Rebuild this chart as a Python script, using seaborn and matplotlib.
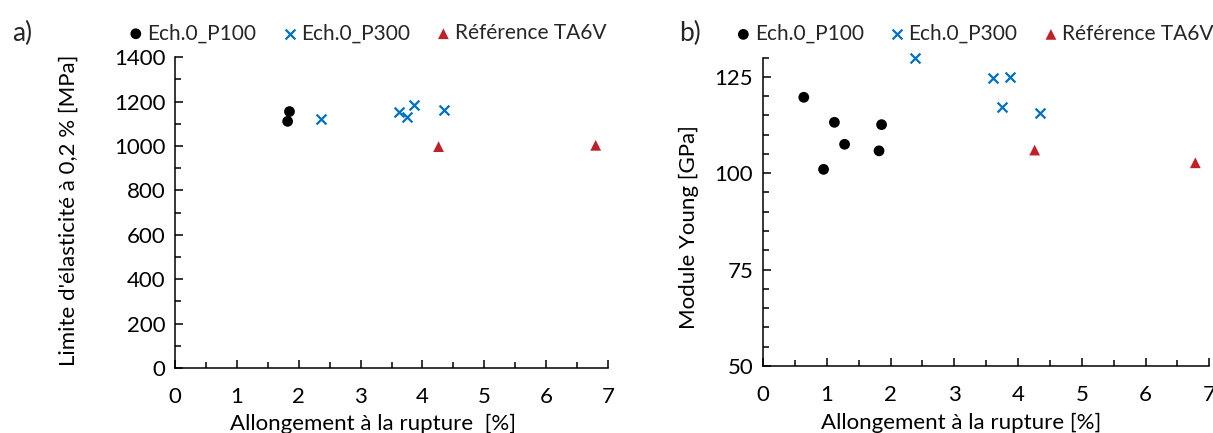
"""Yield strength and Young modulus vs elongation at break (two scatter panels)."""

import matplotlib.pyplot as plt
import pandas as pd
import seaborn as sns
from matplotlib.ticker import MultipleLocator

# panel a) yield strength at 0.2 % [MPa] vs elongation [%]
p100_elong_a = [1.82, 1.85]
p100_yield = [1111, 1155]
p300_elong_a = [2.36, 3.62, 3.75, 3.87, 4.35]
p300_yield = [1122, 1155, 1130, 1185, 1163]
ref_elong_a = [4.26, 6.80]
ref_yield = [997, 1003]

# panel b) Young modulus [GPa] vs elongation [%]
p100_elong_b = [0.64, 0.95, 1.12, 1.28, 1.82, 1.86]
p100_young = [119.7, 101.0, 113.2, 107.5, 105.8, 112.6]
p300_elong_b = [2.38, 3.61, 3.75, 3.88, 4.35]
p300_young = [129.8, 124.6, 117.1, 125.0, 115.6]
ref_elong_b = [4.26, 6.78]
ref_young = [106.0, 102.7]

series_names = ["Ech.0_P100", "Ech.0_P300", "Référence TA6V"]
colors = {"Ech.0_P100": "black", "Ech.0_P300": "#0070C0", "Référence TA6V": "#C0202A"}
markers = {"Ech.0_P100": "o", "Ech.0_P300": "x", "Référence TA6V": "^"}
sizes = {"Ech.0_P100": 60, "Ech.0_P300": 50, "Référence TA6V": 60}

sns.set_theme(style="white")
plt.rcParams["font.family"] = ["Lato", "DejaVu Sans"]
plt.rcParams["font.size"] = 15
FS = 16
FS_LEG = 15


def long_df(groups):
    frames = []
    for name, xs, ys in groups:
        frames.append(pd.DataFrame({"x": xs, "y": ys, "serie": name}))
    return pd.concat(frames, ignore_index=True)


df_a = long_df([
    ("Ech.0_P100", p100_elong_a, p100_yield),
    ("Ech.0_P300", p300_elong_a, p300_yield),
    ("Référence TA6V", ref_elong_a, ref_yield),
])
df_b = long_df([
    ("Ech.0_P100", p100_elong_b, p100_young),
    ("Ech.0_P300", p300_elong_b, p300_young),
    ("Référence TA6V", ref_elong_b, ref_young),
])

fig = plt.figure(figsize=(12.13, 4.33), dpi=100)
ax_a = fig.add_axes([0.1443, 0.150, 0.357, 0.718])
ax_b = fig.add_axes([0.629, 0.155, 0.368, 0.712])


def draw(ax, df, leg_x):
    for name in series_names:
        sub = df[df["serie"] == name]
        kw = dict(linewidth=1.6) if markers[name] == "x" else dict(edgecolor="none")
        sns.scatterplot(data=sub, x="x", y="y", ax=ax, color=colors[name],
                        marker=markers[name], s=sizes[name], label=name,
                        clip_on=False, zorder=3, **kw)
    ax.set_xlim(0, 7)
    ax.xaxis.set_major_locator(MultipleLocator(1))
    ax.xaxis.set_minor_locator(MultipleLocator(0.5))
    for side in ("top", "right"):
        ax.spines[side].set_visible(False)
    for side in ("left", "bottom"):
        ax.spines[side].set_color("black")
        ax.spines[side].set_linewidth(1.1)
    ax.tick_params(which="both", bottom=True, left=True, top=False, right=False)
    ax.tick_params(which="major", direction="in", length=5.5, width=1.1,
                   color="black", labelsize=FS, labelcolor="black")
    ax.tick_params(which="minor", direction="in", length=4, width=1.1, color="black")
    ax.tick_params(axis="x", which="major", pad=14)
    ax.tick_params(axis="y", which="major", pad=7)
    ax.legend(loc="center left", bbox_to_anchor=(leg_x, 1.077), ncol=3, frameon=False,
              fontsize=FS_LEG, handlelength=0.6, handletextpad=0.25, columnspacing=1.3,
              borderaxespad=0, borderpad=0)


draw(ax_a, df_a, -0.105)
ax_a.set_ylim(0, 1400)
ax_a.yaxis.set_major_locator(MultipleLocator(200))
ax_a.yaxis.set_minor_locator(MultipleLocator(100))
ax_a.set_xlabel("Allongement à la rupture  [%]", fontsize=FS, color="black")
ax_a.set_ylabel("Limite d'élasticité à 0,2 % [MPa]", fontsize=FS, color="black")
ax_a.xaxis.set_label_coords(0.457, -0.146)
ax_a.yaxis.set_label_coords(-0.222, 0.508)

draw(ax_b, df_b, -0.058)
ax_b.set_ylim(50, 130)
ax_b.yaxis.set_major_locator(MultipleLocator(25))
ax_b.yaxis.set_minor_locator(MultipleLocator(5))
ax_b.set_xlabel("Allongement à la rupture [%]", fontsize=FS, color="black")
ax_b.set_ylabel("Module Young [GPa]", fontsize=FS, color="black")
ax_b.xaxis.set_label_coords(0.444, -0.153)
ax_b.yaxis.set_label_coords(-0.1435, 0.45)

fig.text(0.010, 0.905, "a)", fontsize=19)
fig.text(0.560, 0.905, "b)", fontsize=19)

fig.savefig("out.png", dpi=100)
